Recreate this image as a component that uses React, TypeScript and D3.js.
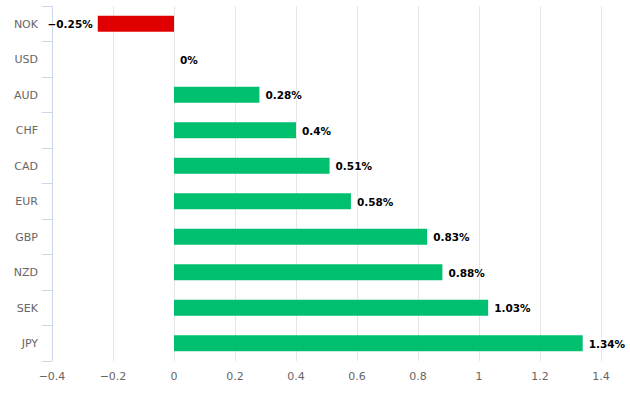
import React from 'react';
import { scaleLinear, scaleBand } from 'd3';

const categories = ['NOK', 'USD', 'AUD', 'CHF', 'CAD', 'EUR', 'GBP', 'NZD', 'SEK', 'JPY'];
const changes = [-0.25, 0, 0.28, 0.4, 0.51, 0.58, 0.83, 0.88, 1.03, 1.34];
const xTicks = [-0.4, -0.2, 0, 0.2, 0.4, 0.6, 0.8, 1, 1.2, 1.4];

const width = 630;
const height = 399;
const margin = { top: 6, right: 29, bottom: 38, left: 52 };
const font = '"DejaVu Sans", "Lucida Grande", sans-serif';

const fmt = (v: number) => (v < 0 ? '\u2212' + String(-v) : String(v));

export default function App() {
  const x = scaleLinear()
    .domain([-0.4, 1.4])
    .range([margin.left, width - margin.right]);
  const y = scaleBand()
    .domain(categories)
    .range([margin.top, height - margin.bottom])
    .paddingInner(0.55)
    .paddingOuter(0.275);
  // full band edges for ticks
  const yb = scaleBand()
    .domain(categories)
    .range([margin.top, height - margin.bottom]);
  const bottom = height - margin.bottom;

  return (
    <div style={{ position: 'absolute', left: 0, top: 0 }}>
      <svg width={width} height={height} style={{ display: 'block', fontFamily: font }}>
        <rect width={width} height={height} fill="#fff" />
        {/* grid */}
        {xTicks.map((t) => (
          <line
            key={'g' + t}
            x1={x(t)}
            x2={x(t)}
            y1={margin.top}
            y2={bottom}
            stroke="#e6e6e6"
            strokeWidth={1}
            shapeRendering="crispEdges"
          />
        ))}
        {/* y axis */}
        <line
          x1={margin.left}
          x2={margin.left}
          y1={margin.top}
          y2={bottom}
          stroke="#ccd6eb"
          shapeRendering="crispEdges"
        />
        {categories.map((c) => (
          <line
            key={'t' + c}
            x1={margin.left - 10}
            x2={margin.left}
            y1={yb(c)!}
            y2={yb(c)!}
            stroke="#ccd6eb"
            shapeRendering="crispEdges"
          />
        ))}
        <line
          x1={margin.left - 10}
          x2={margin.left}
          y1={bottom}
          y2={bottom}
          stroke="#ccd6eb"
          shapeRendering="crispEdges"
        />
        {categories.map((c) => (
          <text
            key={'l' + c}
            x={38}
            y={yb(c)! + yb.bandwidth() / 2}
            dy="0.38em"
            textAnchor="end"
            fontSize={11}
            fill="#666"
          >
            {c}
          </text>
        ))}
        {xTicks.map((t) => (
          <text
            key={'x' + t}
            x={x(t)}
            y={380}
            textAnchor="middle"
            fontSize={11}
            fill="#666"
          >
            {fmt(t)}
          </text>
        ))}
        {/* bars */}
        {categories.map((c, i) => {
          const v = changes[i];
          const x0 = x(Math.min(0, v));
          const x1 = x(Math.max(0, v));
          return (
            <rect
              key={'b' + c}
              x={x0}
              y={y(c)!}
              width={x1 - x0}
              height={y.bandwidth()}
              fill={v < 0 ? '#e00000' : '#00bf6f'}
            />
          );
        })}
        {categories.map((c, i) => {
          const v = changes[i];
          const neg = v < 0;
          return (
            <text
              key={'d' + c}
              x={neg ? x(v) - 5 : x(v) + 6}
              y={y(c)! + y.bandwidth() / 2}
              dy="0.45em"
              textAnchor={neg ? 'end' : 'start'}
              fontSize={10.5}
              fontWeight="bold"
              fill="#000"
              stroke="#fff"
              strokeWidth={2}
              strokeLinejoin="round"
              paintOrder="stroke"
            >
              {fmt(v) + '%'}
            </text>
          );
        })}
      </svg>
    </div>
  );
}
